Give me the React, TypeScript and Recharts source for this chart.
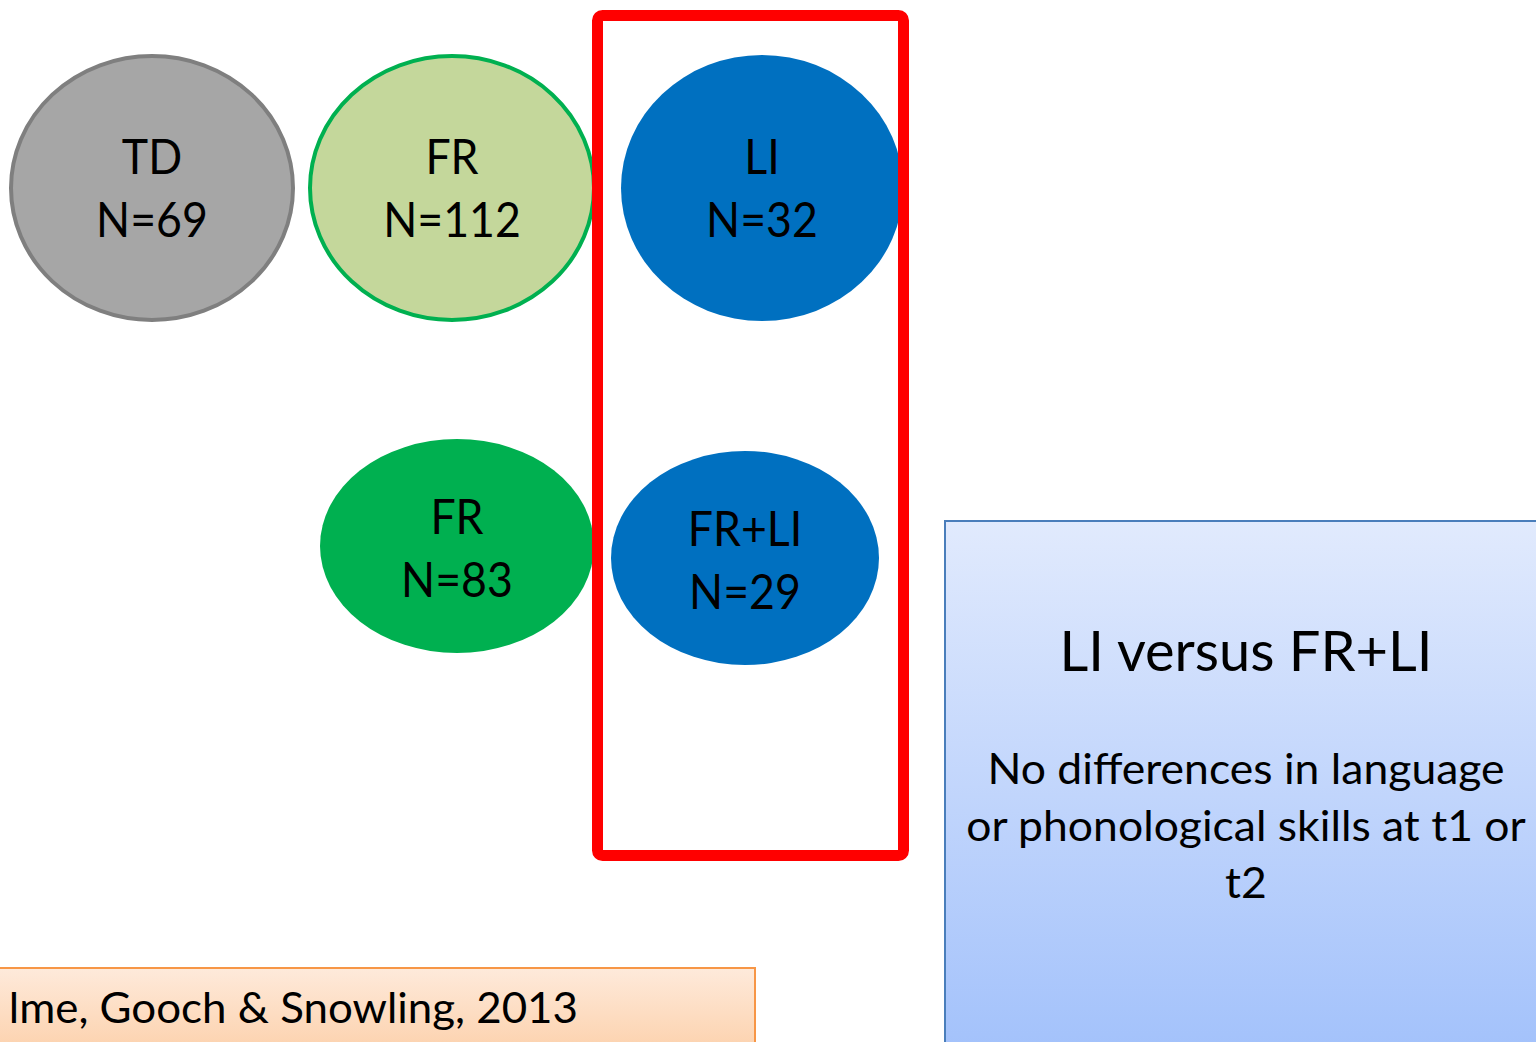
import React from 'react';
import { ComposedChart, Scatter, XAxis, YAxis, ReferenceArea } from 'recharts';

const W = 1536;
const H = 1042;

// Groups of children (category, sample size, position in the diagram plane)
const groupNames = ['TD', 'FR', 'LI', 'FR', 'FR+LI'];
const groupCounts = [69, 112, 32, 83, 29];
const groupX = [152, 452, 762, 457, 745];
const groupY = [188, 188, 188, 546, 558];

const comparisonTitle = 'LI versus FR+LI';
const comparisonLines = ['No differences in language', 'or phonological skills at t1 or', 't2'];
const citation = 'lme, Gooch & Snowling, 2013';

const FONT = 'Lato, "Open Sans", sans-serif';

const ellipseStyles = [
  { rx: 141, ry: 132, fill: '#a6a6a6', stroke: '#7f7f7f', sw: 4 },
  { rx: 142, ry: 132, fill: '#c4d79b', stroke: '#00b050', sw: 4 },
  { rx: 141, ry: 133, fill: '#0070c0', stroke: 'none', sw: 0 },
  { rx: 137, ry: 107, fill: '#00b050', stroke: 'none', sw: 0 },
  { rx: 134, ry: 107, fill: '#0070c0', stroke: 'none', sw: 0 },
];

const groupData = groupNames.map((name, i) => ({
  x: groupX[i],
  y: groupY[i],
  name,
  n: groupCounts[i],
  idx: i,
}));

const squeeze = (cx: number, k: number) => `translate(${cx} 0) scale(${k} 1) translate(${-cx} 0)`;

const GroupShape = (props: any) => {
  const { cx, cy, payload } = props;
  const s = ellipseStyles[payload.idx];
  const top = payload.idx < 3;
  return (
    <g>
      <ellipse cx={cx} cy={cy} rx={s.rx} ry={s.ry} fill={s.fill} stroke={s.stroke} strokeWidth={s.sw} />
      <g transform={squeeze(cx, 0.93)}>
        <text x={cx} y={cy + (top ? -14 : -12)} textAnchor="middle" fontFamily={FONT} fontSize={48} fill="#000">
          {payload.name}
        </text>
        <text x={cx} y={cy + (top ? 49 : 51)} textAnchor="middle" fontFamily={FONT} fontSize={48} fill="#000">
          {`N=${payload.n}`}
        </text>
      </g>
    </g>
  );
};

const ComparisonText = (props: any) => {
  const vb = props.viewBox || {};
  const cx = vb.x + vb.width / 2;
  const y0 = vb.y;
  return (
    <g>
      <text x={cx} y={y0 + 150} textAnchor="middle" fontFamily={FONT} fontSize={56} fill="#000">
        {comparisonTitle}
      </text>
      <g transform={squeeze(cx, 1.035)}>
        {comparisonLines.map((line, i) => (
          <text key={i} x={cx} y={y0 + 263 + i * 57} textAnchor="middle" fontFamily={FONT} fontSize={43} fill="#000">
            {line}
          </text>
        ))}
      </g>
    </g>
  );
};

const CitationText = (props: any) => {
  const vb = props.viewBox || {};
  const xe = vb.x + vb.width - 177;
  return (
    <g transform={squeeze(xe, 1.02)}>
      <text x={xe} y={vb.y + 55} textAnchor="end" fontFamily={FONT} fontSize={43} fill="#000">
        {citation}
      </text>
    </g>
  );
};

export default function App() {
  return (
    <div style={{ position: 'absolute', left: 0, top: 0, width: W, height: H, background: '#fff' }}>
      <ComposedChart width={W} height={H} margin={{ top: 0, right: 0, bottom: 0, left: 0 }}>
        <defs>
          <linearGradient id="blueGrad" x1="0" y1="0" x2="0" y2="1">
            <stop offset="0%" stopColor="#e1eafd" />
            <stop offset="100%" stopColor="#a2c1fb" />
          </linearGradient>
          <linearGradient id="peachGrad" x1="0" y1="0" x2="0" y2="1">
            <stop offset="0%" stopColor="#feeadb" />
            <stop offset="100%" stopColor="#fccfa8" />
          </linearGradient>
        </defs>
        <XAxis type="number" dataKey="x" domain={[0, W]} hide allowDataOverflow />
        <YAxis type="number" dataKey="y" domain={[0, H]} reversed hide allowDataOverflow />
        <ReferenceArea
          x1={945}
          x2={1547}
          y1={521}
          y2={1060}
          ifOverflow="visible"
          fill="url(#blueGrad)"
          fillOpacity={1}
          stroke="#4a7ebb"
          strokeWidth={2}
          label={{ content: (p: any) => <ComparisonText {...p} /> }}
        />
        <ReferenceArea
          x1={-20}
          x2={755}
          y1={968}
          y2={1060}
          ifOverflow="visible"
          fill="url(#peachGrad)"
          fillOpacity={1}
          stroke="#f79646"
          strokeWidth={2}
          label={{ content: (p: any) => <CitationText {...p} /> }}
        />
        <Scatter data={groupData} dataKey="y" shape={<GroupShape />} isAnimationActive={false} />
        <ReferenceArea
          x1={597.5}
          x2={903.5}
          y1={15.5}
          y2={855.5}
          ifOverflow="visible"
          fill="none"
          fillOpacity={0}
          stroke="#ff0000"
          strokeWidth={11}
          radius={5}
          zIndex={2000}
        />
      </ComposedChart>
    </div>
  );
}
